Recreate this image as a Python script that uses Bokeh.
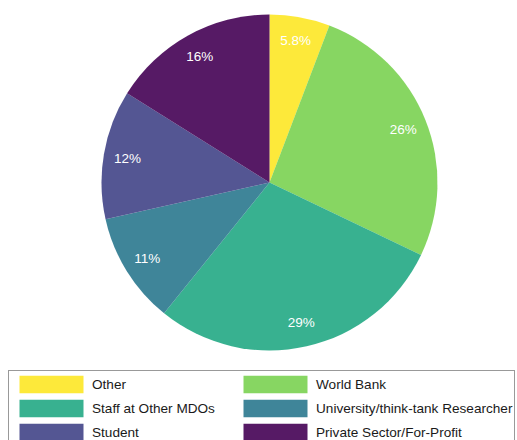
import numpy as np
from bokeh.plotting import figure
from bokeh.models import ColumnDataSource, Legend, LegendItem
from bokeh.core.properties import value
from bokeh.embed import file_html
from bokeh.resources import INLINE

categories = ["Other", "World Bank", "Staff at Other MDOs",
              "University/think-tank Researcher", "Student",
              "Private Sector/For-Profit"]
shares = [5.8, 26.3, 28.7, 10.7, 12.4, 16.1]
colors = ["#FDE725", "#7AD151", "#22A884", "#2A788E", "#414487", "#440154"]

W, H = 517, 440
cx, cy, R = 269, 258, 168
FONT = "Liberation Sans"

vals = np.array(shares, dtype=float)
frac = vals / vals.sum()
cum = np.concatenate([[0.0], np.cumsum(frac)])
start = np.pi / 2 - 2 * np.pi * cum[1:]
end = np.pi / 2 - 2 * np.pi * cum[:-1]
mid = (start + end) / 2
labels = [f"{v:.2g}%" for v in vals]

src = ColumnDataSource(dict(
    cat=categories, start=start, end=end, color=colors,
    x=[cx] * len(vals), y=[cy] * len(vals),
    lx=cx + 0.857 * R * np.cos(mid), ly=cy + 0.857 * R * np.sin(mid),
    lab=labels,
))

p = figure(width=W, height=H, x_range=(0, W), y_range=(0, H),
           output_backend="svg", toolbar_location=None,
           x_axis_location=None, y_axis_location=None,
           min_border=0, outline_line_color=None)
p.grid.visible = False

r = p.wedge(x="x", y="y", radius=R, start_angle="start", end_angle="end",
            fill_color="color", fill_alpha=0.9, line_color=None, source=src)

p.text(x="lx", y="ly", text="lab", source=src, text_color="white",
       text_align="center", text_baseline="middle",
       text_font=value(FONT), text_font_size="13.5px")

items = [LegendItem(label=c, renderers=[r], index=i) for i, c in enumerate(categories)]
legend = Legend(items=items, location=(8, -6), orientation="horizontal", ncols=2,
                glyph_width=80, glyph_height=22, label_height=22, label_width=141,
                label_standoff=1, spacing=2, padding=2, margin=0,
                label_text_font=FONT, label_text_font_size="13.6px",
                label_text_color="#1a1a1a",
                border_line_color="#333333", border_line_width=1,
                background_fill_color="white", background_fill_alpha=1)
p.add_layout(legend, "center")

open("out.html", "w").write(file_html(p, INLINE))
